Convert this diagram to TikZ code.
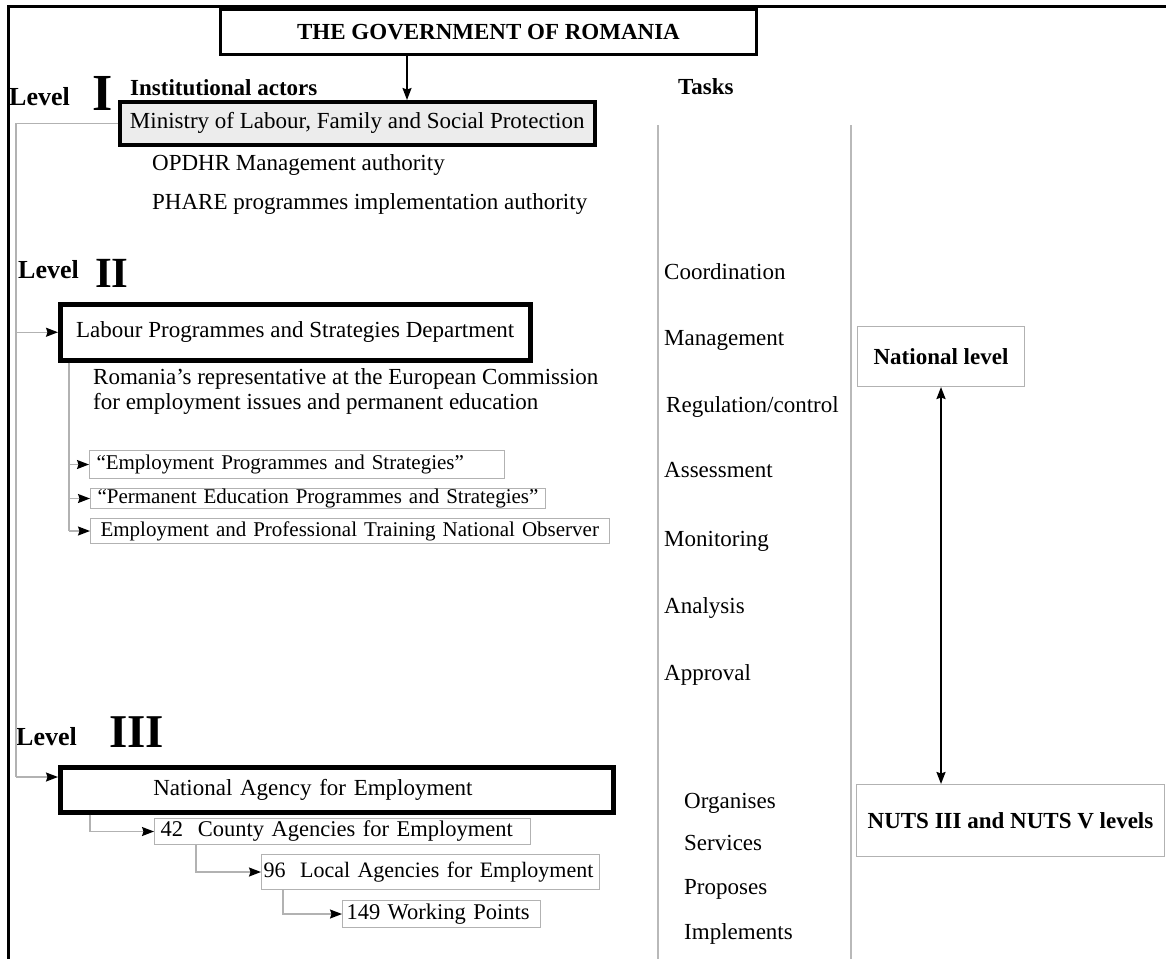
\documentclass[tikz,border=0pt]{standalone}
\usepackage{fontspec}
\setmainfont{Liberation Serif}
\usetikzlibrary{positioning, arrows.meta}

\tikzset{
    txt/.style={inner sep=0pt, anchor=base west, font=\fontsize{23}{25}\selectfont},
    head/.style={txt, font=\fontsize{23}{25}\selectfont\bfseries},
    lvl/.style={txt, font=\fontsize{26}{26}\selectfont\bfseries},
    bignum/.style={txt, font=\fontsize{#1}{#1}\selectfont\bfseries},
    bigbox/.style={draw, line width=#1, inner sep=0pt, anchor=north west,
        font=\fontsize{23}{25}\selectfont},
    bigbox/.default=3pt,
    subbox/.style={draw=gray!60, line width=1pt, inner ysep=0pt, anchor=north west,
        align=left, text height=15pt, text depth=5pt, font=\fontsize{#1}{25}\selectfont},
    subbox/.default=21,
    levelbox/.style={draw=gray!60, line width=1pt, inner sep=0pt, anchor=north west,
        font=\fontsize{23}{25}\selectfont\bfseries},
    tie/.style={draw=gray!60, line width=1.4pt},
    sep/.style={draw=gray!55, line width=1.2pt},
}

\begin{document}
\begin{tikzpicture}[x=1pt, y=-1pt, >={Stealth[length=12pt, width=9pt, inset=1.5pt, color=black]}]
    \useasboundingbox (0,0) rectangle (1166,959);
    \draw[line width=3pt] (1166,6) -- (8,6) -- (8,959);

    % level I
    \node[bigbox=3pt, minimum width=536pt, minimum height=45pt,
        font=\fontsize{23}{25}\selectfont\bfseries] (gov) at (219,8) {THE GOVERNMENT OF ROMANIA};
    \node[lvl] (lv1) at (9,105) {Level};
    \node[bignum=52, below right=5pt and 22pt of lv1.base east, anchor=base west] (n1) {I};
    \node[head] (actors) at (130,95.5) {Institutional actors};
    \node[head] (tasks) at (678,94.5) {Tasks};
    \node[bigbox=3.5pt, fill=gray!15, minimum width=475pt, minimum height=43pt] (ministry) at (118,100)
        {Ministry of Labour, Family and Social Protection};
    \node[txt] (opdhr) at (152,170.5) {OPDHR Management authority};
    \node[txt] (phare) at (152,209.5) {PHARE programmes implementation authority};
    \coordinate (gx) at (407,0);
    \draw[->, line width=1.5pt] (gov.south -| gx) -- (ministry.north -| gx);

    % level II
    \node[lvl] (lv2) at (18,278) {Level};
    \node[bignum=43, below right=9pt and 16pt of lv2.base east, anchor=base west] (n2) {II};
    \node[bigbox=4.5pt, minimum width=470pt, minimum height=56pt] (dept) at (58,302)
        {Labour Programmes and Strategies Department};
    \node[txt, anchor=west, align=left] (rep) at (93,391)
        {Romania’s representative at the European Commission\\for employment issues and permanent education};
    \node[subbox, text width=401pt, inner xsep=7pt, minimum height=28pt] (eps) at (89,450)
        {“Employment Programmes and Strategies”};
    \node[subbox, text width=441pt, inner xsep=7pt, minimum height=20pt] (peps) at (90,488)
        {“Permanent Education Programmes and Strategies”};
    \node[subbox, text width=499pt, inner xsep=10pt, minimum height=25pt] (obs) at (90,518)
        {Employment and Professional Training National Observer};

    % level III
    \node[lvl] (lv3) at (16,745) {Level};
    \node[bignum=47, below right=2pt and 32pt of lv3.base east, anchor=base west] (n3) {III};
    \node[bigbox=4.5pt, minimum height=45pt, align=left, text width=367pt, inner xsep=93pt] (agency)
        at (58,765) {National Agency for Employment};
    \node[subbox=22.5, text width=364pt, inner xsep=6pt, minimum height=26pt] (county) at (154,818)
        {42~ County Agencies for Employment};
    \node[subbox=22, text width=334pt, inner xsep=2pt, minimum height=35pt] (local) at (261,854)
        {\mbox{96~ Local Agencies for Employment}};
    \node[subbox=22.5, text width=190pt, inner xsep=4pt, minimum height=27pt] (points) at (342,900)
        {149 Working Points};

    % tree
    \coordinate (trunk) at (16,0);
    \coordinate (a3) at (16,777);
    \draw[tie] (ministry.west) -| (a3);
    \draw[tie, ->] (trunk |- dept.west) -- (dept.west);
    \draw[tie, ->] (a3) -- (a3 -| agency.west);
    \coordinate (b2) at (69,0);
    \draw[tie] (dept.south -| b2) -- (b2 |- obs.west);
    \draw[tie, ->] (b2 |- eps.west) -- (eps.west);
    \draw[tie, ->] (b2 |- peps.west) -- (peps.west);
    \draw[tie, ->] (b2 |- obs.west) -- (obs.west);
    \draw[tie, ->] ([xshift=32pt]agency.south west) |- (county.west);
    \draw[tie, ->] ([xshift=42pt]county.south west) |- (local.west);
    \draw[tie, ->] ([xshift=22pt]local.south west) |- (points.west);

    % tasks
    \draw[sep] (658,125) -- (658,959);
    \draw[sep] (851,125) -- (851,959);
    \node[txt] (t1) at (664,279.5) {Coordination};
    \node[txt] (t2) at (664,345.5) {Management};
    \node[txt] (t3) at (666,412.5) {Regulation/control};
    \node[txt] (t4) at (664,477.5) {Assessment};
    \node[txt] (t5) at (664,546.5) {Monitoring};
    \node[txt] (t6) at (664,613.5) {Analysis};
    \node[txt] (t7) at (664,680.5) {Approval};
    \node[txt] (t8) at (684,808.5) {Organises};
    \node[txt] (t9) at (684,850.5) {Services};
    \node[txt] (t10) at (684,894.5) {Proposes};
    \node[txt] (t11) at (684,939.5) {Implements};

    % levels
    \node[levelbox, minimum width=167pt, minimum height=60pt] (national) at (857,326) {National level};
    \node[levelbox, minimum width=308pt, minimum height=72pt] (nuts) at (856,784) {NUTS III and NUTS V levels};
    \draw[<->, line width=2pt] (national.south) -- (nuts.north -| national.south);
\end{tikzpicture}
\end{document}
